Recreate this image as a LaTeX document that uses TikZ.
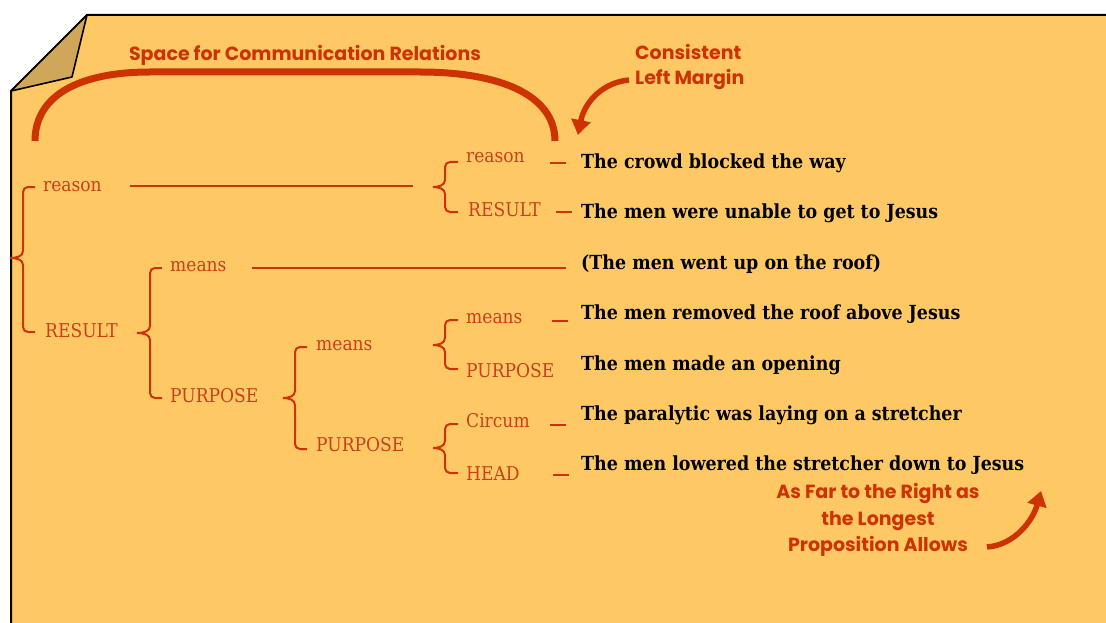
\documentclass[tikz,border=0pt]{standalone}
\usepackage{fontspec}
\setmainfont{DejaVu Serif Condensed}
\newfontfamily\annfont{Poppins}
\usetikzlibrary{arrows.meta}
\definecolor{paper}{HTML}{FEC965}
\definecolor{fold}{HTML}{D0A65A}
\definecolor{rel}{HTML}{CC3300}
\definecolor{lbl}{HTML}{C9401A}
\newcommand\cbrace[6]{% tip x, spine x, end x, top y, mid y, bottom y
  \draw[relline] (#3,#4) -- (#2+5,#4) to[out=180,in=90] (#2,#4+5) -- (#2,#5-7)
    to[out=-90,in=0] (#1,#5) to[out=0,in=90] (#2,#5+7) -- (#2,#6-5)
    to[out=-90,in=180] (#2+5,#6) -- (#3,#6);}
\begin{document}
\begin{tikzpicture}[x=1pt,y=-1pt,
  lab/.style={anchor=base west,inner sep=0,font=\fontsize{19}{19}\selectfont,text=lbl},
  prop/.style={anchor=base west,inner sep=0,font=\fontsize{19.4}{19.4}\selectfont\bfseries,text=black},
  ann/.style={anchor=base,inner sep=0,font=\annfont\bfseries\fontsize{19}{19}\selectfont,text=rel},
  relline/.style={draw=rel,line width=2pt},
  bigarrow/.style={draw=rel,line width=5.5pt,-{Triangle[width=19pt,length=15pt]}},
]
\fill[white] (0,0) rectangle (1106,623);
\useasboundingbox (0,0) rectangle (1106,623);
% paper
\draw[fill=paper,line width=2pt] (87,15) -- (1112,15) -- (1112,630) -- (11,630) -- (11,91) -- cycle;
\draw[fill=fold,line width=1.6pt,line join=round] (87,15) -- (72,77) -- (11,91) -- cycle;

% big arc
\draw[rel,line width=7pt] (35,141) .. controls (35,95) and (80,72) .. (150,72) -- (420,72) .. controls (500,72) and (555,95) .. (555,141);
\node[ann,anchor=base] (title) at (305,61) {Space for Communication Relations};

% consistent left margin
\node[ann,anchor=base west] (cons1) at (635,60) {Consistent};
\node[ann,anchor=base west] (cons2) at (635,85) {Left Margin};
\coordinate (a1s) at (629,80);
\coordinate (a1e) at (578,135);
\draw[bigarrow] (a1s) .. controls (605,82) and (585,100) .. (a1e);

% far right annotation
\node[ann] (far1) at (878,498) {As Far to the Right as};
\node[ann] (far2) at (878,525) {the Longest};
\node[ann] (far3) at (878,551) {Proposition Allows};
\coordinate (a2s) at (987,547);
\coordinate (a2e) at (1041,491);
\draw[bigarrow] (a2s) .. controls (1015,545) and (1033,520) .. (a2e);

% labels
\node[lab] (L1) at (43,191) {reason};
\node[lab] (L2) at (45,337) {RESULT};
\node[lab] (L3) at (170,271) {means};
\node[lab] (L4) at (170,402) {PURPOSE};
\node[lab] (L5) at (316,350) {means};
\node[lab] (L6) at (316,451) {PURPOSE};
\node[lab] (R1) at (466,163) {reason};
\node[lab] (R2) at (468,216) {RESULT};
\node[lab] (R3) at (466,323) {means};
\node[lab] (R4) at (466,377) {PURPOSE};
\node[lab] (R5) at (466,427) {Circum};
\node[lab] (R6) at (466,480) {HEAD};

% braces
\cbrace{10}{23}{35}{187}{258}{332}
\cbrace{137}{150}{162}{268}{333}{398}
\cbrace{283}{295}{307}{347}{398}{449}
\cbrace{433}{445}{458}{162}{187}{212}
\cbrace{433}{445}{458}{320}{345}{369}
\cbrace{433}{445}{458}{424}{448}{473}

% propositions
\node[prop] (P1) at (581,168) {The crowd blocked the way};
\node[prop] (P2) at (581,218) {The men were unable to get to Jesus};
\node[prop] (P3) at (581,269) {(The men went up on the roof)};
\node[prop] (P4) at (581,319) {The men removed the roof above Jesus};
\node[prop] (P5) at (581,370) {The men made an opening};
\node[prop] (P6) at (581,420) {The paralytic was laying on a stretcher};
\node[prop] (P7) at (581,470) {The men lowered the stretcher down to Jesus};

% connecting lines
\draw[relline] (130,186) -- (413,186);
\draw[relline] (252,268) -- (566,268);
\draw[relline] (550,163) -- (566,163);
\draw[relline] (556,212) -- (572,212);
\draw[relline] (552,321) -- (568,321);
\draw[relline] (550,425) -- (566,425);
\draw[relline] (553,475) -- (569,475);
\end{tikzpicture}
\end{document}
